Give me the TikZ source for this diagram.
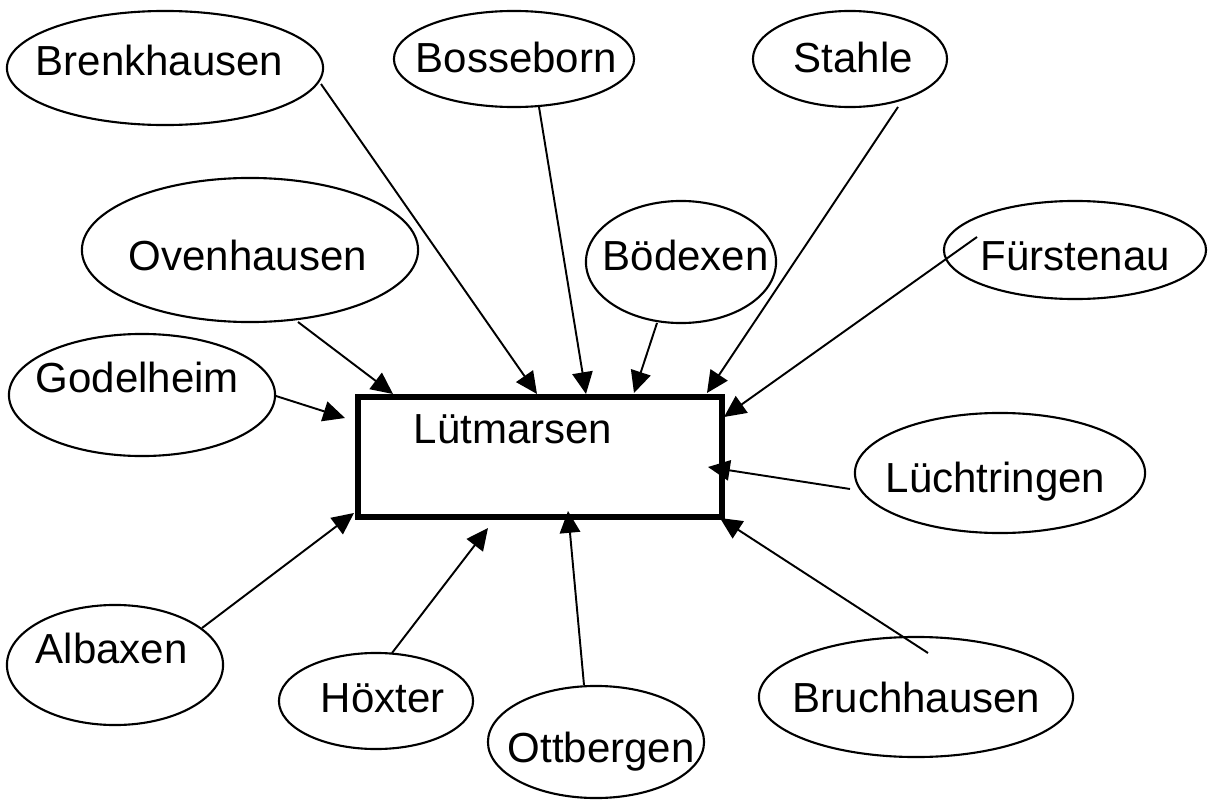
\documentclass[tikz,border=0pt]{standalone}
\usepackage{fontspec}
\setmainfont{Liberation Sans}
\usetikzlibrary{shapes.geometric,arrows.meta}
\tikzset{
  place/.style={draw, ellipse, line width=0.6pt, inner sep=0pt},
  lbl/.style={anchor=base west, inner sep=0pt, font=\fontsize{11.95}{14}\selectfont},
  conn/.style={line width=0.55pt, -{Triangle[length=6.2pt,width=5.8pt]}},
  hub/.style={draw, line width=1.5pt, inner sep=0pt}
}
\begin{document}
\begin{tikzpicture}[x=0.01cm, y=-0.01cm]
\useasboundingbox (0,0) rectangle (1208,800);
% ellipses
\node[place, minimum width=3.16cm, minimum height=1.14cm] (brenk) at (165,68) {};
\node[place, minimum width=2.40cm, minimum height=0.96cm] (bosse) at (514,59) {};
\node[place, minimum width=1.94cm, minimum height=0.96cm] (stahle) at (850,59) {};
\node[place, minimum width=3.36cm, minimum height=1.44cm] (oven) at (250,250) {};
\node[place, minimum width=1.90cm, minimum height=1.22cm] (boedex) at (681,262) {};
\node[place, minimum width=2.62cm, minimum height=0.98cm] (fuerst) at (1075,250) {};
\node[place, minimum width=2.66cm, minimum height=1.22cm] (godel) at (142,395) {};
\node[place, minimum width=2.90cm, minimum height=1.20cm] (lueckt) at (1000,473) {};
\node[place, minimum width=3.14cm, minimum height=1.20cm] (bruch) at (916,697) {};
\node[place, minimum width=2.16cm, minimum height=1.20cm] (albax) at (115,665) {};
\node[place, minimum width=1.94cm, minimum height=0.96cm] (hoext) at (376,701) {};
\node[place, minimum width=2.16cm, minimum height=1.12cm] (ottb) at (596,742) {};
% hub
\node[hub, minimum width=3.64cm, minimum height=1.20cm] (L) at (540,457) {};
% labels
\node[lbl] (tbrenk) at (35,75) {Brenkhausen};
\node[lbl] (tbosse) at (415,73) {Bosseborn};
\node[lbl] (tstahle) at (793,72) {Stahle};
\node[lbl] (toven) at (128,271) {Ovenhausen};
\node[lbl] (tboedex) at (602,270) {Bödexen};
\node[lbl] (tfuerst) at (980,270) {Fürstenau};
\node[lbl] (tgodel) at (35,393) {Godelheim};
\node[lbl] (tL) at (413,443) {Lütmarsen};
\node[lbl] (tlueckt) at (885,492) {Lüchtringen};
\node[lbl] (tbruch) at (792,712) {Bruchhausen};
\node[lbl] (talbax) at (35,663) {Albaxen};
\node[lbl] (thoext) at (320,712) {Höxter};
\node[lbl] (tottb) at (507,762) {Ottbergen};
% connector ends
\coordinate (brenk-o) at (321,84);   \coordinate (brenk-i) at (537,394);
\coordinate (bosse-o) at (539,107);  \coordinate (bosse-i) at (586,394);
\coordinate (stahle-o) at (898,107); \coordinate (stahle-i) at (707,393);
\coordinate (oven-o) at (298,322);   \coordinate (oven-i) at (393,394);
\coordinate (boedex-o) at (657,323); \coordinate (boedex-i) at (634,393);
\coordinate (fuerst-o) at (977,237); \coordinate (fuerst-i) at (724,417);
\coordinate (godel-o) at (276,396);  \coordinate (godel-i) at (345,418);
\coordinate (lueckt-o) at (850,489); \coordinate (lueckt-i) at (708,467);
\coordinate (bruch-o) at (928,653);  \coordinate (bruch-i) at (720,518);
\coordinate (ottb-o) at (584,685);   \coordinate (ottb-i) at (568,511);
\coordinate (hoext-o) at (392,653);  \coordinate (hoext-i) at (488,528);
\coordinate (albax-o) at (202,628);  \coordinate (albax-i) at (354,513);
% connectors
\foreach \n in {brenk,bosse,stahle,oven,boedex,fuerst,godel,lueckt,bruch,ottb,hoext,albax}
  \draw[conn] (\n-o) -- (\n-i);
\end{tikzpicture}
\end{document}
